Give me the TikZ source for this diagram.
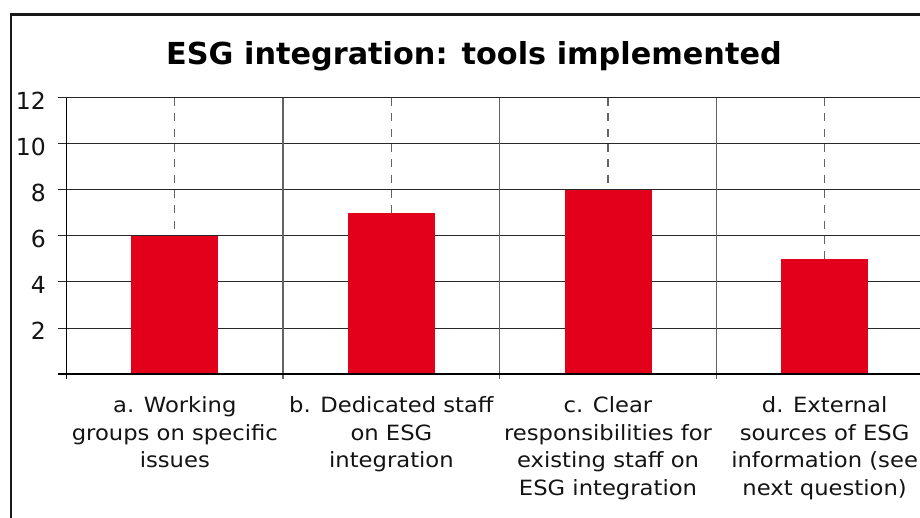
\documentclass[tikz,border=0pt]{standalone}
\usepackage{fontspec}
\setmainfont{DejaVu Sans}
\newfontfamily\labfont[FakeStretch=1.08]{DejaVu Sans}
\definecolor{barred}{RGB}{226,0,26}
\definecolor{gridc}{RGB}{40,40,40}
\definecolor{sepc}{RGB}{100,100,100}
\definecolor{txt}{RGB}{20,20,20}
\begin{document}
\begin{tikzpicture}[x=1pt,y=-1pt,
  grid line/.style={draw=gridc,line width=1pt},
  sep line/.style={draw=sepc,line width=1.2pt},
  dash line/.style={draw=sepc,line width=1.2pt,dash pattern=on 8pt off 7.33pt},
  bar/.style={fill=barred,draw=none},
  ylab/.style={anchor=east,inner sep=0pt,font=\fontsize{23.5}{23.5}\selectfont,text=txt},
  catlab/.style={anchor=north,inner sep=0pt,align=center,text=txt,font=\labfont\fontsize{21}{27.5}\selectfont},
  frame line/.style={draw=black!90,line width=2.6pt}]
\useasboundingbox (0,0) rectangle (920,518);
\clip (0,0) rectangle (920,518);
\fill[white] (0,0) rectangle (920,518);
% frame
\draw[frame line] (11,540) -- (11,14.3) -- (940,14.3);
% title
\node[anchor=base,inner sep=0pt,font=\bfseries\fontsize{30.3}{30}\selectfont] (title) at (474,65) {ESG integration: tools implemented};
% gridlines and y labels
\foreach \v in {2,4,...,12} {
  \draw[grid line] (58,{374-23*\v}) -- (940,{374-23*\v});
  \node[ylab] (y\v) at (46,{374-23*\v+3}) {\v};
}
% dashed center lines
\foreach \c/\h in {174.8/6,391.4/7,608/8,824.6/5} {
  \draw[dash line] (\c,98) -- (\c,{374-23*\h});
}
% separators
\foreach \s in {283,499.6,716.3} {
  \draw[sep line] (\s,98) -- (\s,379);
}
% bars
\foreach \c/\h/\n in {174.8/6/a,391.4/7/b,608/8/c,824.6/5/d} {
  \fill[bar] ({\c-43.5},{374-23*\h}) rectangle ({\c+43.5},374);
}
% axes
\draw[draw=black,line width=1.2pt] (66.7,98) -- (66.7,379);
\draw[draw=black,line width=1.2pt] (58,374) -- (940,374);
% category labels
\node[catlab] (la) at (174.8,396.5) {a. Working\\groups on specific\\issues};
\node[catlab] (lb) at (391.4,396.5) {b. Dedicated staff\\on ESG\\integration};
\node[catlab] (lc) at (608,396.5) {c. Clear\\responsibilities for\\existing staff on\\ESG integration};
\node[catlab] (ld) at (824.6,396.5) {d. External\\sources of ESG\\information (see\\next question)};
\end{tikzpicture}
\end{document}
